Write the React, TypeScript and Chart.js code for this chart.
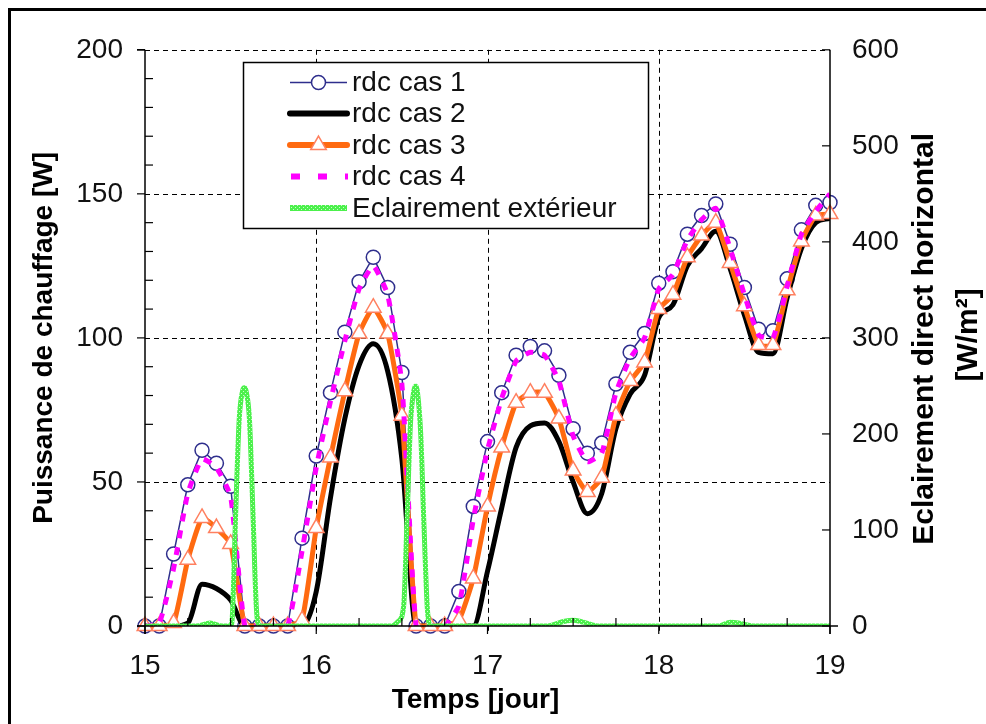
import React, { useEffect, useRef } from 'react';
import { Chart, registerables } from 'chart.js';

Chart.register(...registerables);

// ---- data ----
const timeDays = [
  15, 15.083, 15.167, 15.25, 15.333, 15.417, 15.5, 15.583, 15.667, 15.75, 15.833, 15.917,
  16, 16.083, 16.167, 16.25, 16.333, 16.417, 16.5, 16.583, 16.667, 16.75, 16.833, 16.917,
  17, 17.083, 17.167, 17.25, 17.333, 17.417, 17.5, 17.583, 17.667, 17.75, 17.833, 17.917,
  18, 18.083, 18.167, 18.25, 18.333, 18.417, 18.5, 18.583, 18.667, 18.75, 18.833, 18.917,
  19,
];
const cas1 = [
  0, 0, 25, 49, 61, 56.5, 48.5, 0, 0, 0, 0, 30.5,
  59, 81, 102, 119.5, 128, 117.5, 88, 0, 0, 0, 12, 41.5,
  64, 81, 94, 97, 95.5, 87, 68.5, 60, 63.5, 84, 95, 101.5,
  119, 123, 136, 142.5, 146.5, 132.5, 117.5, 103, 102.5, 120.5, 137.5, 146,
  147,
];
const cas2 = [
  0, 0, 0, 1, 14.5, 13, 9, 0, 0, 0, 0, 0,
  12, 44.5, 72, 90.5, 98, 88.5, 58, 0, 0, 0, 0, 0,
  19, 41, 62, 69.5, 70.5, 64, 50, 39, 46, 68.5, 80.5, 87,
  107, 111.5, 125, 131, 137, 124, 108, 95, 94.5, 114, 131, 140,
  141.5,
];
const cas3 = [
  0, 0, 1, 23, 37.5, 34, 28.5, 0, 0, 0, 0, 2,
  34, 58.5, 81.5, 101.5, 110.5, 101.5, 73, 0, 0, 0, 2, 16.5,
  41.5, 62, 77.5, 81, 81, 72, 54, 46.5, 51.5, 73, 85, 91.5,
  110, 115, 128, 135.5, 140, 126, 111, 97.5, 97.5, 116.5, 133.5, 142.5,
  143,
];
const cas4 = [
  0, 1, 20, 46, 58, 55, 45, 0, 0, 0, 0, 26,
  55, 78, 99, 117, 125, 115, 84, 0, 0, 0, 7, 37,
  61, 79, 92, 95, 94, 85, 66, 57, 60, 81, 93, 100,
  117, 122, 134, 141, 145, 131, 115, 101, 100, 118, 136, 144,
  150,
];
const eclX = [
  15, 15.3, 15.38, 15.45, 15.5, 15.51, 15.53, 15.55, 15.57, 15.58, 15.59, 15.61, 15.63, 15.65, 15.67,
  16.44, 16.48, 16.51, 16.53, 16.55, 16.57, 16.58, 16.59, 16.61, 16.63, 16.65, 16.67,
  17.35, 17.45, 17.5, 17.56, 17.65, 18.35, 18.42, 18.47, 18.55, 19,
];
const eclY = [
  0, 0, 3, 0, 0, 10, 120, 215, 245, 248, 245, 215, 120, 20, 0,
  0, 5, 20, 110, 210, 245, 250, 245, 200, 100, 15, 0,
  0, 5, 6, 4, 0, 0, 4, 3, 0, 0,
];
const xTickValues = [15, 16, 17, 18, 19];
const leftTickValues = [0, 50, 100, 150, 200];
const rightTickValues = [0, 100, 200, 300, 400, 500, 600];
const legendLabels = ['rdc cas 1', 'rdc cas 2', 'rdc cas 3', 'rdc cas 4', 'Eclairement extérieur'];
const leftTitle = 'Puissance de chauffage [W]';
const rightTitle = ['Eclairement direct horizontal', '[W/m²]'];
const xTitle = 'Temps [jour]';

const FONT = '"Liberation Sans", Arial, Helvetica, sans-serif';
const NAVY = '#2e2e8c';
const ORANGE = '#ff6a10';
const CORAL = '#ff8060';
const MAGENTA = '#ff00ff';

function makeGreenPattern(ctx: CanvasRenderingContext2D) {
  const c = document.createElement('canvas');
  c.width = 4;
  c.height = 4;
  const g = c.getContext('2d')!;
  g.fillStyle = '#4cf04c';
  g.fillRect(0, 0, 4, 4);
  g.fillStyle = '#c8ffc8';
  g.fillRect(0, 0, 1, 1);
  g.fillRect(2, 2, 1, 1);
  return ctx.createPattern(c, 'repeat')!;
}

const decorPlugin = {
  id: 'decor',
  beforeDatasetsDraw(chart: any) {
    const { ctx, chartArea: a, scales } = chart;
    const xs = scales.x;
    const ys = scales.y;
    ctx.save();
    ctx.strokeStyle = '#000';
    ctx.lineWidth = 1;
    ctx.setLineDash([5, 4]);
    for (const v of leftTickValues) {
      if (v === 0) continue;
      const py = Math.round(ys.getPixelForValue(v)) + 0.5;
      ctx.beginPath();
      ctx.moveTo(a.left, py);
      ctx.lineTo(a.right, py);
      ctx.stroke();
    }
    for (const v of xTickValues) {
      if (v === 15 || v === 19) continue;
      const px = Math.round(xs.getPixelForValue(v)) + 0.5;
      ctx.beginPath();
      ctx.moveTo(px, a.top);
      ctx.lineTo(px, a.bottom + 8);
      ctx.stroke();
    }
    ctx.restore();
  },
  afterDatasetsDraw(chart: any) {
    const { ctx, chartArea: a, scales } = chart;
    const xs = scales.x;
    const ys = scales.y;
    const y2 = scales.y2;
    ctx.save();
    ctx.strokeStyle = '#000';
    ctx.lineWidth = 1.5;
    ctx.setLineDash([]);
    const line = (x1: number, y1: number, x2: number, y2p: number) => {
      ctx.beginPath();
      ctx.moveTo(x1, y1);
      ctx.lineTo(x2, y2p);
      ctx.stroke();
    };
    // axes
    line(a.left, a.top, a.left, a.bottom + 8);
    line(a.right, a.top, a.right, a.bottom + 8);
    line(a.left - 8, a.bottom, a.right + 8, a.bottom);
    line(a.left - 8, a.top, a.left, a.top);
    // left ticks
    ctx.lineWidth = 1.2;
    for (let v = 0; v <= 200; v += 10) {
      const py = ys.getPixelForValue(v);
      if (v % 50 === 0) line(a.left - 8, py, a.left, py);
      else line(a.left, py, a.left + 8, py);
    }
    // right ticks
    for (const v of rightTickValues) {
      const py = y2.getPixelForValue(v);
      line(a.right - 8, py, a.right, py);
    }
    // bottom ticks
    for (let v = 15; v <= 19.001; v += 0.25) {
      const px = xs.getPixelForValue(v);
      if (Math.abs(v - Math.round(v)) < 1e-6) line(px, a.bottom, px, a.bottom + 8);
      else line(px, a.bottom, px, a.bottom - 8);
    }
    ctx.restore();
  },
  afterDraw(chart: any) {
    const { ctx, chartArea: a } = chart;
    ctx.save();
    // titles
    ctx.fillStyle = '#000';
    ctx.textAlign = 'center';
    ctx.textBaseline = 'middle';
    const cy = (a.top + a.bottom) / 2;
    ctx.font = `bold 28px ${FONT}`;
    ctx.save();
    ctx.translate(33, cy);
    ctx.rotate(-Math.PI / 2);
    ctx.fillText(leftTitle, 0, 0);
    ctx.restore();
    ctx.font = `bold 30px ${FONT}`;
    ctx.save();
    ctx.translate(914, cy + 1);
    ctx.rotate(-Math.PI / 2);
    ctx.fillText(rightTitle[0], 0, 0);
    ctx.restore();
    ctx.save();
    ctx.translate(958, cy - 3);
    ctx.rotate(-Math.PI / 2);
    ctx.fillText(rightTitle[1], 0, 0);
    ctx.restore();
    ctx.font = `bold 28px ${FONT}`;
    ctx.fillText(xTitle, (a.left + a.right) / 2 - 12, 689);

    // legend
    const bx = 232, by = 51, bw = 405, bh = 166;
    ctx.fillStyle = '#fff';
    ctx.fillRect(bx, by, bw, bh);
    ctx.strokeStyle = '#000';
    ctx.lineWidth = 1.5;
    ctx.strokeRect(bx + 0.5, by + 0.5, bw, bh);
    const rows = [71.5, 102.5, 134, 165.5, 197];
    const lx1 = 279, lx2 = 336, mx = 307.5;
    // row 1
    ctx.strokeStyle = NAVY;
    ctx.lineWidth = 1.5;
    ctx.beginPath(); ctx.moveTo(lx1, rows[0]); ctx.lineTo(lx2, rows[0]); ctx.stroke();
    ctx.fillStyle = '#fff';
    ctx.beginPath(); ctx.arc(mx, rows[0], 7, 0, Math.PI * 2); ctx.fill(); ctx.stroke();
    // row 2
    ctx.strokeStyle = '#000';
    ctx.lineWidth = 6;
    ctx.lineCap = 'round';
    ctx.beginPath(); ctx.moveTo(lx1, rows[1]); ctx.lineTo(lx2, rows[1]); ctx.stroke();
    // row 3
    ctx.strokeStyle = ORANGE;
    ctx.beginPath(); ctx.moveTo(lx1, rows[2]); ctx.lineTo(lx2, rows[2]); ctx.stroke();
    ctx.lineCap = 'butt';
    ctx.lineWidth = 1.5;
    ctx.strokeStyle = CORAL;
    ctx.fillStyle = '#fff';
    const r = 9;
    ctx.beginPath();
    ctx.moveTo(mx, rows[2] - r);
    ctx.lineTo(mx + r * Math.sin((2 * Math.PI) / 3), rows[2] - r * Math.cos((2 * Math.PI) / 3));
    ctx.lineTo(mx + r * Math.sin((4 * Math.PI) / 3), rows[2] - r * Math.cos((4 * Math.PI) / 3));
    ctx.closePath();
    ctx.fill();
    ctx.stroke();
    // row 4
    ctx.strokeStyle = MAGENTA;
    ctx.lineWidth = 6;
    ctx.setLineDash([9, 18]);
    ctx.beginPath(); ctx.moveTo(lx1 + 1, rows[3]); ctx.lineTo(lx2 + 1, rows[3]); ctx.stroke();
    ctx.setLineDash([]);
    // row 5
    ctx.strokeStyle = makeGreenPattern(ctx);
    ctx.lineWidth = 6;
    ctx.beginPath(); ctx.moveTo(lx1, rows[4]); ctx.lineTo(lx2, rows[4]); ctx.stroke();
    // labels
    ctx.fillStyle = '#111';
    ctx.font = `28px ${FONT}`;
    ctx.textAlign = 'left';
    ctx.textBaseline = 'middle';
    legendLabels.forEach((t, i) => ctx.fillText(t, 341, rows[i] + 1));
    ctx.restore();
  },
};

export default function App() {
  const ref = useRef<HTMLCanvasElement | null>(null);
  useEffect(() => {
    const canvas = ref.current!;
    const ctx = canvas.getContext('2d')!;
    const green = makeGreenPattern(ctx);
    const pts = (arr: number[]) => arr.map((v, i) => ({ x: timeDays[i], y: v }));
    const chart = new Chart(canvas, {
      type: 'line',
      data: {
        datasets: [
          {
            label: legendLabels[0],
            data: pts(cas1),
            borderColor: NAVY,
            borderWidth: 1.5,
            pointStyle: 'circle',
            pointRadius: 7,
            pointBackgroundColor: '#fff',
            pointBorderColor: NAVY,
            pointBorderWidth: 1.5,
            tension: 0,
            clip: false,
            order: 5,
            yAxisID: 'y',
          },
          {
            label: legendLabels[1],
            data: pts(cas2),
            borderColor: '#000',
            borderWidth: 5,
            pointRadius: 0,
            cubicInterpolationMode: 'monotone',
            order: 4,
            yAxisID: 'y',
          },
          {
            label: legendLabels[2],
            data: pts(cas3),
            borderColor: ORANGE,
            borderWidth: 5,
            pointStyle: 'triangle',
            pointRadius: 9,
            pointBackgroundColor: '#fff',
            pointBorderColor: CORAL,
            pointBorderWidth: 1.5,
            tension: 0.15,
            clip: false,
            order: 3,
            yAxisID: 'y',
          },
          {
            label: legendLabels[3],
            data: pts(cas4),
            borderColor: MAGENTA,
            borderWidth: 5,
            borderDash: [8, 9],
            pointRadius: 0,
            tension: 0.15,
            order: 2,
            yAxisID: 'y',
          },
          {
            label: legendLabels[4],
            data: eclX.map((x, i) => ({ x, y: eclY[i] })),
            borderColor: green,
            borderWidth: 5,
            pointRadius: 0,
            cubicInterpolationMode: 'monotone',
            order: 1,
            yAxisID: 'y2',
          },
        ],
      },
      options: {
        animation: false,
        responsive: false,
        events: [],
        layout: { padding: { top: 35, left: 0, right: 0, bottom: 0 } },
        plugins: { legend: { display: false }, tooltip: { enabled: false } },
        scales: {
          x: {
            type: 'linear',
            min: 15,
            max: 19,
            afterBuildTicks: (s: any) => { s.ticks = xTickValues.map((v) => ({ value: v })); },
            afterFit: (s: any) => { s.height = 98; },
            grid: { display: false, drawTicks: false },
            border: { display: false },
            ticks: { padding: 23, color: '#111', font: { family: FONT, size: 28 }, maxRotation: 0 },
          },
          y: {
            position: 'left',
            min: 0,
            max: 200,
            afterBuildTicks: (s: any) => { s.ticks = leftTickValues.map((v) => ({ value: v })); },
            afterFit: (s: any) => { s.width = 134; },
            grid: { display: false, drawTicks: false },
            border: { display: false },
            ticks: { padding: 22, color: '#111', font: { family: FONT, size: 28 } },
          },
          y2: {
            position: 'right',
            min: 0,
            max: 600,
            afterBuildTicks: (s: any) => { s.ticks = rightTickValues.map((v) => ({ value: v })); },
            afterFit: (s: any) => { s.width = 156; },
            grid: { display: false, drawTicks: false },
            border: { display: false },
            ticks: { padding: 22, color: '#111', font: { family: FONT, size: 28 } },
          },
        },
      },
      plugins: [decorPlugin],
    });
    return () => chart.destroy();
  }, []);
  return (
    <div
      style={{
        position: 'fixed',
        left: 8,
        top: 8,
        width: 975,
        height: 713,
        borderTop: '3px solid #000',
        borderLeft: '3px solid #000',
        background: '#fff',
      }}
    >
      <canvas ref={ref} width={975} height={713} style={{ display: 'block', width: 975, height: 713 }} />
    </div>
  );
}
